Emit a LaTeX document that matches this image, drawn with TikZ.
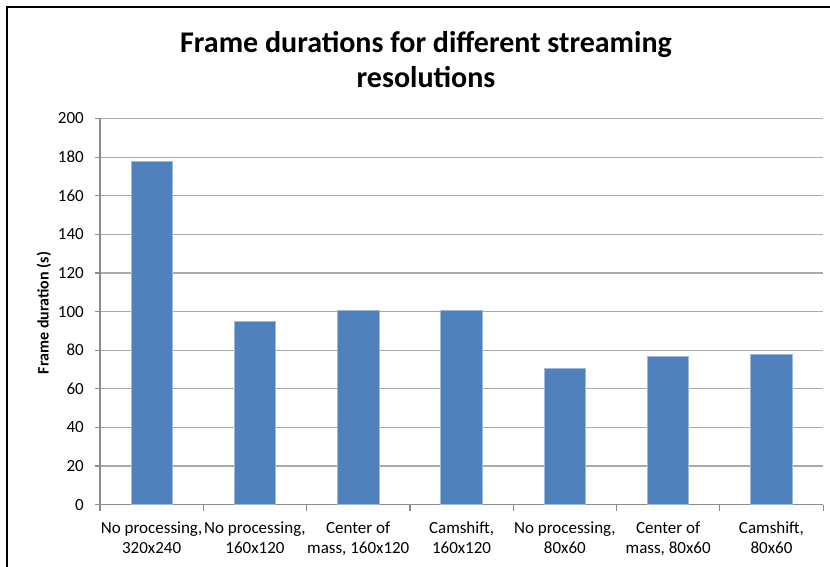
\documentclass[tikz,border=0pt]{standalone}
\usepackage{fontspec}
\setmainfont{Carlito}
\usetikzlibrary{positioning}

\definecolor{barblue}{RGB}{79,129,189}
\definecolor{gridgray}{RGB}{170,170,170}
\definecolor{axisgray}{RGB}{140,140,140}
\tikzset{
  bar/.style={fill=barblue, draw=barblue!55!white, line width=0.8pt},
  grid line/.style={draw=gridgray, line width=1.2pt},
  axis line/.style={draw=axisgray, line width=1.2pt},
  tick label/.style={left, inner sep=0pt, font=\fontsize{17}{20}\selectfont},
  cat label/.style={below, align=center, inner sep=0pt, font=\fontsize{17}{20}\selectfont},
}

\begin{document}
\begin{tikzpicture}[x=1pt,y=1pt]
\useasboundingbox (0,0) rectangle (830,567);
% chart frame, only its top and left edges are in the picture
\draw[line width=2.5pt] (7,0) -- (7,560) -- (830,560);

\node[align=center, font=\fontsize{30}{35}\selectfont\bfseries] (title) at (426,507)
  {Frame durations for different streaming\\resolutions};
\node[rotate=90, font=\fontsize{16}{19}\selectfont\bfseries] (ylabel) at (44,254) {Frame duration (s)};

\begin{scope}[shift={(100,62.3)}, x=103.3pt, y=1.931pt]
  % gridlines and y ticks
  \foreach \v in {0,20,...,200} {
    \draw[grid line] (0,\v) -- (7,\v);
    \draw[axis line] (0,\v) -- ++(-5pt,0) coordinate (tk\v);
    \node[tick label, xshift=-11pt] (t\v) at (tk\v) {\v};
  }
  \draw[axis line] (0,0) -- (0,200);
  \draw[axis line] (0,0) -- (7,0);
  \foreach \i in {0,...,7}
    \draw[axis line] (\i,0) -- ++(0,-6pt);

  % bars
  \foreach \v [count=\i] in {178,94.7,100.5,100.5,70.8,77,77.8}
    \filldraw[bar] (\i-0.7,0) rectangle (\i-0.3,\v);

  % category labels
  \foreach \txt [count=\i] in {{No processing,\\320x240},{No processing,\\160x120},
      {Center of\\mass, 160x120},{Camshift,\\160x120},{No processing,\\80x60},
      {Center of\\mass, 80x60},{Camshift,\\80x60}}
    \node[cat label, yshift=-17pt] (c\i) at (\i-0.5,0) {\txt};
\end{scope}
\end{tikzpicture}
\end{document}
